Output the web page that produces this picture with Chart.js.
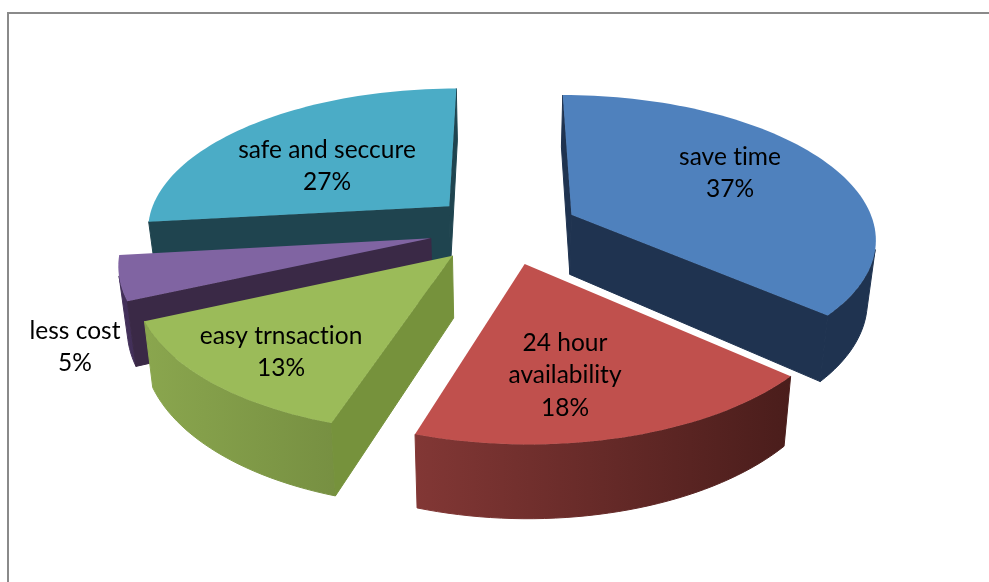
<!DOCTYPE html>
<html>
<head>
<meta charset="utf-8">
<title>Pie</title>
<script src="https://cdn.jsdelivr.net/npm/chart.js@4/dist/chart.umd.min.js"></script>
<style>
    html, body { margin: 0; padding: 0; background: #fff; overflow: hidden; }
    #frame { position: absolute; left: 7px; top: 12px; width: 982px; height: 570px; border-left: 2px solid #8a8a8a; border-top: 2px solid #8a8a8a; }
    #pie { position: absolute; left: 0; top: 0; }
</style>
</head>
<body>
<div id="frame"></div>
<canvas id="pie" width="989" height="582"></canvas>
<script>
const categories = ['save time', '24 hour availability', 'easy trnsaction', 'less cost', 'safe and seccure'];
const shares = [36.5, 18.45, 13.35, 4.9, 26.8];

const topColors = ['#4f81bd', '#c0504d', '#9bbb59', '#8064a2', '#4bacc6'];
const rimColors = [['#1f3350', '#1f3350'], ['#823735', '#4a1d1b'], ['#8aa64e', '#6b823a'], ['#43305a', '#3a2946'], ['#3f93ab', '#3f93ab']];
const cutColors = ['#1f3350', '#4a1d1b', '#76923c', '#3a2946', '#1f444f'];

// label lines are centred here, one line every 32px
const labelLines = [['save time'], ['24 hour', 'availability'], ['easy trnsaction'], ['less cost'], ['safe and seccure']];
const labelAnchors = [[730, 157], [565, 343], [281, 336], [75, 331], [327, 150]];

// camera for the fake 3D look
const view = { cx: 504, cy: 229, radius: 304, tilt: 0.466, depth: 60.5, persp: 0.15, taper: 0.023 };

function project(u, v, z) {
    const s = 1 / (1 + view.persp * v);
    return {
        x: view.cx + view.radius * u * s * (1 - view.taper * z),
        y: view.cy - view.tilt * view.radius * v * s + view.depth * z * s
    };
}

function slicePoints(arc) {
    const a0 = arc.startAngle + Math.PI / 2;
    const a1 = arc.endAngle + Math.PI / 2;
    const mid = (a0 + a1) / 2;
    const shift = arc.options.offset / arc.outerRadius;
    const du = Math.sin(mid) * shift;
    const dv = Math.cos(mid) * shift;
    const pts = [{ u: du, v: dv }];
    const steps = Math.ceil((a1 - a0) / 0.03);
    for (let i = 0; i <= steps; i++) {
        const a = a0 + (a1 - a0) * i / steps;
        pts.push({ u: du + Math.sin(a), v: dv + Math.cos(a) });
    }
    return { pts, sort: Math.cos(mid) };
}

function tracePath(ctx, list) {
    ctx.beginPath();
    list.forEach((p, i) => i ? ctx.lineTo(p.x, p.y) : ctx.moveTo(p.x, p.y));
    ctx.closePath();
}

function signedArea(list) {
    let sum = 0;
    list.forEach((p, i) => {
        const q = list[(i + 1) % list.length];
        sum += p.x * q.y - q.x * p.y;
    });
    return sum;
}

function paintWall(ctx, list, fill) {
    tracePath(ctx, list);
    ctx.fillStyle = fill;
    ctx.strokeStyle = fill;
    ctx.lineWidth = 1;
    ctx.fill();
    ctx.stroke();
}

const pie3d = {
    id: 'pie3d',
    beforeDatasetDraw(chart) {
        const ctx = chart.ctx;
        const arcs = chart.getDatasetMeta(0).data;
        const order = arcs.map((arc, i) => ({ i, ...slicePoints(arc) })).sort((a, b) => b.sort - a.sort);

        order.forEach(({ i, pts }) => {
            const top = pts.map(p => project(p.u, p.v, 0));
            const bottom = pts.map(p => project(p.u, p.v, 1));
            const last = pts.length - 1;
            const grad = ctx.createLinearGradient(Math.min(...top.map(p => p.x)), 0, Math.max(...top.map(p => p.x)), 0);
            grad.addColorStop(0, rimColors[i][0]);
            grad.addColorStop(1, rimColors[i][1]);

            // outer rim, only the part facing the viewer, as one polygon so no seams show
            let rimTop = [];
            let rimBottom = [];
            const flushRim = () => {
                if (rimTop.length) paintWall(ctx, rimTop.concat(rimBottom.reverse()), grad);
                rimTop = [];
                rimBottom = [];
            };
            for (let k = 1; k < last; k++) {
                const quad = [top[k], top[k + 1], bottom[k + 1], bottom[k]];
                if (signedArea(quad) < 0) {
                    if (!rimTop.length) {
                        rimTop.push(top[k]);
                        rimBottom.push(bottom[k]);
                    }
                    rimTop.push(top[k + 1]);
                    rimBottom.push(bottom[k + 1]);
                } else {
                    flushRim();
                }
            }
            flushRim();

            // the two cut faces
            [[0, 1], [last, 0]].forEach(([a, b]) => {
                const quad = [top[a], top[b], bottom[b], bottom[a]];
                if (signedArea(quad) < 0) paintWall(ctx, quad, cutColors[i]);
            });

            tracePath(ctx, top);
            ctx.fillStyle = topColors[i];
            ctx.fill();
        });

        // data labels
        ctx.fillStyle = '#000';
        ctx.font = '24.5px Lato';
        ctx.letterSpacing = '0.01px';
        ctx.textAlign = 'center';
        ctx.textBaseline = 'middle';
        shares.forEach((share, i) => {
            const lines = labelLines[i].concat(Math.round(share) + '%');
            lines.forEach((line, k) => {
                ctx.fillText(line, labelAnchors[i][0], labelAnchors[i][1] + k * 32.5);
            });
        });
        return false;
    }
};

new Chart(document.getElementById('pie').getContext('2d'), {
    type: 'pie',
    data: {
        labels: categories,
        datasets: [{
            data: shares,
            backgroundColor: topColors,
            borderWidth: 0,
            offset: 64
        }]
    },
    options: {
        responsive: false,
        animation: false,
        plugins: {
            legend: { display: false },
            tooltip: { enabled: false }
        }
    },
    plugins: [pie3d]
});
</script>
</body>
</html>
